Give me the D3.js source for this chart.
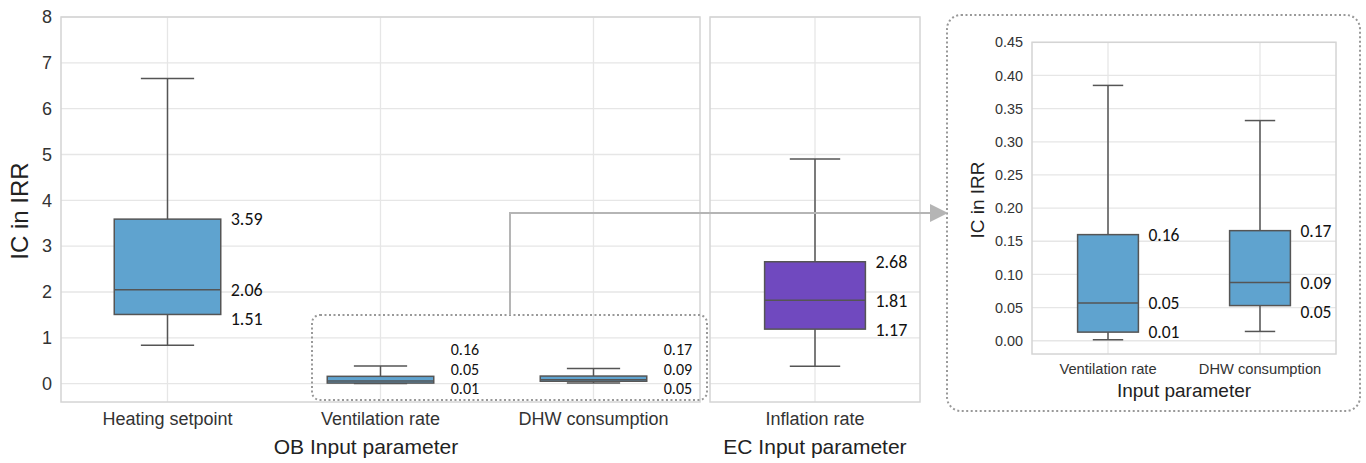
<!DOCTYPE html>
<html>
<head>
<meta charset="utf-8">
<script src="https://cdn.jsdelivr.net/npm/d3@7"></script>
<style>
  body { margin: 0; background: #fff; }
  text { font-family: "Liberation Sans", Arial, sans-serif; }
  .val { font-family: "Carlito", "Open Sans", sans-serif; fill: #111; }
</style>
</head>
<body>
<div id="chart"></div>
<script>
// OB input parameters (box stats)
const obCategories = ["Heating setpoint", "Ventilation rate", "DHW consumption"];
const obWhiskerLow = [0.84, 0.0015, 0.014];
const obQ1 = [1.51, 0.013, 0.053];
const obMedian = [2.05, 0.057, 0.088];
const obQ3 = [3.59, 0.160, 0.166];
const obWhiskerHigh = [6.66, 0.385, 0.332];
const obLabels = [["3.59", "2.06", "1.51"], ["0.16", "0.05", "0.01"], ["0.17", "0.09", "0.05"]];

// EC input parameter
const ecCategories = ["Inflation rate"];
const ecWhiskerLow = [0.38];
const ecQ1 = [1.19];
const ecMedian = [1.82];
const ecQ3 = [2.66];
const ecWhiskerHigh = [4.90];
const ecLabels = [["2.68", "1.81", "1.17"]];

// zoomed inset (the two small OB boxes)
const insetCategories = ["Ventilation rate", "DHW consumption"];
const insetIndex = [1, 2];

const mainTicks = [0, 1, 2, 3, 4, 5, 6, 7, 8];
const insetTicks = [0, 0.05, 0.10, 0.15, 0.20, 0.25, 0.30, 0.35, 0.40, 0.45];

const blue = "#5fa3cf";
const purple = "#7049bf";
const edge = "#555";
const gridColor = "#e6e6e6";
const frameColor = "#d4d4d4";

const svg = d3.select("#chart")
  .append("svg")
  .attr("width", 1366)
  .attr("height", 463);

svg.append("rect").attr("width", 1366).attr("height", 463).attr("fill", "#fff");

const yMain = d3.scaleLinear().domain([-0.4, 8]).range([402, 17]);
const xOB = d3.scaleBand().domain(obCategories).range([61, 700]);
const xEC = d3.scaleBand().domain(ecCategories).range([710, 920]);

const yIn = d3.scaleLinear().domain([-0.02, 0.45]).range([354, 42.3]);
const xIn = d3.scaleBand().domain(insetCategories).range([1032, 1336]);

// gridlines + frame + category ticks for one panel
function panel(x, y, ticks, fontSize) {
  const [x0, x1] = x.range();
  const [y0, y1] = y.range();
  const g = svg.append("g");
  g.selectAll(".hg").data(ticks).enter().append("line")
    .attr("x1", x0).attr("x2", x1)
    .attr("y1", d => y(d)).attr("y2", d => y(d))
    .attr("stroke", gridColor).attr("stroke-width", 1.3);
  g.selectAll(".vg").data(x.domain()).enter().append("line")
    .attr("x1", d => x(d) + x.bandwidth() / 2).attr("x2", d => x(d) + x.bandwidth() / 2)
    .attr("y1", y1).attr("y2", y0)
    .attr("stroke", gridColor).attr("stroke-width", 1.3);
  g.append("rect")
    .attr("x", x0).attr("y", y1).attr("width", x1 - x0).attr("height", y0 - y1)
    .attr("fill", "none").attr("stroke", frameColor).attr("stroke-width", 1.5);

  const ax = g.append("g")
    .attr("transform", `translate(0,${y0})`)
    .call(d3.axisBottom(x).tickSize(0).tickPadding(10));
  ax.select(".domain").remove();
  ax.selectAll("text").attr("font-size", fontSize).attr("fill", "#333")
    .attr("font-family", "Liberation Sans, Arial, sans-serif");
  return g;
}

function yAxis(y, x0, ticks, fmt, fontSize) {
  const ax = svg.append("g")
    .attr("transform", `translate(${x0},0)`)
    .call(d3.axisLeft(y).tickValues(ticks).tickFormat(fmt).tickSize(0).tickPadding(9));
  ax.select(".domain").remove();
  ax.selectAll("text").attr("font-size", fontSize).attr("fill", "#333")
    .attr("font-family", "Liberation Sans, Arial, sans-serif");
}

// draws boxes; rows = [{cat, lo, q1, med, q3, hi}]
function boxes(x, y, rows, color, boxFrac) {
  const bw = x.bandwidth() * boxFrac;
  const g = svg.append("g");
  rows.forEach(r => {
    const cx = x(r.cat) + x.bandwidth() / 2;
    g.append("line").attr("x1", cx).attr("x2", cx).attr("y1", y(r.q3)).attr("y2", y(r.hi))
      .attr("stroke", edge).attr("stroke-width", 1.5);
    g.append("line").attr("x1", cx).attr("x2", cx).attr("y1", y(r.q1)).attr("y2", y(r.lo))
      .attr("stroke", edge).attr("stroke-width", 1.5);
    [r.hi, r.lo].forEach(v => {
      g.append("line").attr("x1", cx - bw / 4).attr("x2", cx + bw / 4)
        .attr("y1", y(v)).attr("y2", y(v))
        .attr("stroke", edge).attr("stroke-width", 1.5);
    });
    g.append("rect")
      .attr("x", cx - bw / 2).attr("y", y(r.q3))
      .attr("width", bw).attr("height", y(r.q1) - y(r.q3))
      .attr("fill", color).attr("stroke", edge).attr("stroke-width", 1.5);
    g.append("line").attr("x1", cx - bw / 2).attr("x2", cx + bw / 2)
      .attr("y1", y(r.med)).attr("y2", y(r.med))
      .attr("stroke", edge).attr("stroke-width", 1.5);
  });
  return bw;
}

// value labels placed next to the box at Q3 / median / Q1
function sideLabels(x, y, rows, labels, bw, dx, fontSize) {
  rows.forEach((r, i) => {
    const lx = x(r.cat) + x.bandwidth() / 2 + bw / 2 + dx;
    const ys = [y(r.q3), y(r.med), Math.max(y(r.q1), y(r.med) + 29)];
    labels[i].forEach((t, j) => {
      svg.append("text").attr("class", "val")
        .attr("x", lx).attr("y", ys[j]).attr("dy", "0.35em")
        .attr("font-size", fontSize).text(t);
    });
  });
}

// stacked labels for the tiny boxes in the main panel
function stackLabels(x, y, rows, labels, bw, dx, fontSize) {
  rows.forEach((r, i) => {
    const lx = x(r.cat) + x.bandwidth() / 2 + bw / 2 + dx;
    labels[i].forEach((t, j) => {
      svg.append("text").attr("class", "val")
        .attr("x", lx).attr("y", y(0) + 5 - (2 - j) * 19.5).attr("dy", "0.35em")
        .attr("font-size", fontSize).text(t);
    });
  });
}

const obRows = obCategories.map((c, i) => ({
  cat: c, lo: obWhiskerLow[i], q1: obQ1[i], med: obMedian[i], q3: obQ3[i], hi: obWhiskerHigh[i]
}));
const ecRows = ecCategories.map((c, i) => ({
  cat: c, lo: ecWhiskerLow[i], q1: ecQ1[i], med: ecMedian[i], q3: ecQ3[i], hi: ecWhiskerHigh[i]
}));
const inRows = insetCategories.map((c, k) => {
  const i = insetIndex[k];
  return { cat: c, lo: obWhiskerLow[i], q1: obQ1[i], med: obMedian[i], q3: obQ3[i], hi: obWhiskerHigh[i] };
});

// main left panels
panel(xOB, yMain, mainTicks, 18);
panel(xEC, yMain, mainTicks, 18);
yAxis(yMain, 61, mainTicks, d3.format("d"), 18);

const bwOB = boxes(xOB, yMain, obRows, blue, 0.5);
const bwEC = boxes(xEC, yMain, ecRows, purple, 0.48);
sideLabels(xOB, yMain, obRows.slice(0, 1), obLabels.slice(0, 1), bwOB, 10, 18);
stackLabels(xOB, yMain, obRows.slice(1), obLabels.slice(1), bwOB, 17, 16);
sideLabels(xEC, yMain, ecRows, ecLabels, bwEC, 10, 18);

svg.append("text").attr("transform", "translate(28,211) rotate(-90)")
  .attr("text-anchor", "middle").attr("font-size", 24).attr("fill", "#222")
  .text("IC in IRR");
svg.append("text").attr("x", 366).attr("y", 454)
  .attr("text-anchor", "middle").attr("font-size", 21).attr("fill", "#222")
  .text("OB Input parameter");
svg.append("text").attr("x", 815).attr("y", 454)
  .attr("text-anchor", "middle").attr("font-size", 21).attr("fill", "#222")
  .text("EC Input parameter");

// inset
panel(xIn, yIn, insetTicks, 14.7);
yAxis(yIn, 1032, insetTicks, d3.format(".2f"), 14.4);
const bwIn = boxes(xIn, yIn, inRows, blue, 0.4);
sideLabels(xIn, yIn, inRows, [obLabels[1], obLabels[2]], bwIn, 10, 17.5);

svg.append("text").attr("transform", "translate(984,200) rotate(-90)")
  .attr("text-anchor", "middle").attr("font-size", 19).attr("fill", "#222")
  .text("IC in IRR");
svg.append("text").attr("x", 1184).attr("y", 397)
  .attr("text-anchor", "middle").attr("font-size", 19).attr("fill", "#222")
  .text("Input parameter");

// dotted call-out boxes and connector arrow
svg.append("rect")
  .attr("x", 312).attr("y", 315).attr("width", 395).attr("height", 85).attr("rx", 8)
  .attr("fill", "none").attr("stroke", "#999").attr("stroke-width", 2)
  .attr("stroke-dasharray", "2,2.5");
svg.append("rect")
  .attr("x", 947).attr("y", 15).attr("width", 413).attr("height", 396).attr("rx", 14)
  .attr("fill", "none").attr("stroke", "#999").attr("stroke-width", 2)
  .attr("stroke-dasharray", "2,2.5");
svg.append("path")
  .attr("d", "M510,315 L510,213 L932,213")
  .attr("fill", "none").attr("stroke", "#b5b5b5").attr("stroke-width", 2);
svg.append("path")
  .attr("d", "M930,204 L948,213 L930,222 Z")
  .attr("fill", "#b5b5b5");
</script>
</body>
</html>
